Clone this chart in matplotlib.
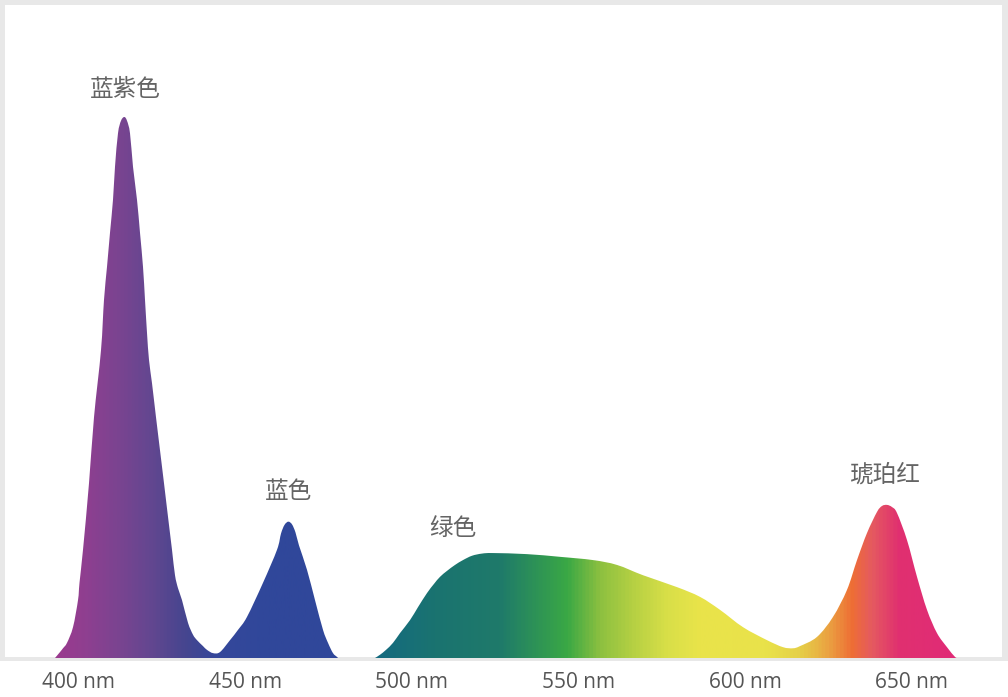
import numpy as np
import matplotlib.pyplot as plt
from matplotlib.colors import LinearSegmentedColormap, Normalize
from matplotlib.patches import Rectangle
from matplotlib.path import Path

# spectrum: wavelength (nm) and relative intensity (violet peak = 100)
wl_violet_blue = [392.95, 394.45, 395.35, 396.55, 398.35, 399.85, 400.3, 401.35, 403.15,
                  404.65, 406.75, 407.65, 408.55, 409.45, 410.35, 410.95, 411.85, 412.75,
                  413.74, 414.55, 415.45, 416.35, 417.55, 418.45, 419.35, 419.95, 420.55,
                  421.15, 422.05, 423.25, 424.45, 425.65, 426.85, 428.05, 428.95, 429.85,
                  431.05, 432.85, 434.35, 435.55, 437.35, 438.55, 440.35, 442.45, 445.45,
                  447.85, 450.55, 455.35, 459.55, 460.75, 461.8, 462.94, 464.05, 465.1,
                  466.15, 468.55, 470.95, 473.35, 474.85, 476.35, 477.55, 477.85]
int_violet_blue = [0.0, 1.1, 1.8, 2.8, 5.7, 10.7, 13.9, 20.0, 32.3,
                   44.5, 56.9, 66.2, 72.3, 78.6, 84.7, 90.8, 97.0, 99.3,
                   100.0, 99.3, 97.0, 90.8, 84.7, 78.6, 72.3, 66.2, 60.1,
                   55.1, 50.8, 44.5, 38.4, 32.3, 26.1, 20.0, 15.3, 12.9,
                   10.7, 6.5, 4.3, 3.3, 2.2, 1.5, 0.9, 1.1, 3.3,
                   5.2, 7.6, 13.9, 20.0, 23.0, 24.6, 25.2, 24.7, 23.2,
                   20.8, 16.3, 10.7, 5.2, 2.8, 0.9, 0.2, 0.0]

wl_green_red = [488.95, 490.45, 492.25, 494.35, 496.45, 499.45, 501.85, 504.55, 506.65,
                508.45, 510.55, 512.95, 515.35, 518.05, 521.05, 524.35, 534.55, 544.45,
                554.35, 561.55, 569.35, 579.55, 586.45, 592.45, 599.35, 606.55, 611.35,
                614.35, 616.45, 621.55, 626.35, 630.55, 633.55, 636.55, 639.55, 641.05,
                642.55, 644.05, 645.55, 648.55, 651.55, 654.55, 657.55, 660.55, 662.95,
                663.85]
int_green_red = [0.0, 0.6, 1.5, 2.8, 4.6, 7.0, 9.4, 12.0, 13.7,
                 15.0, 16.1, 17.2, 18.1, 18.9, 19.3, 19.4, 19.2, 18.7,
                 18.1, 17.2, 15.3, 13.1, 11.3, 8.9, 5.7, 3.3, 2.0,
                 1.8, 2.2, 3.9, 7.6, 12.6, 18.1, 23.1, 27.0, 28.1,
                 28.3, 27.9, 26.8, 21.8, 15.0, 8.9, 4.6, 2.0, 0.2,
                 0.0]

# colour of the fill along the wavelength axis
grad_nm = [392.0, 401.4, 411.6, 421.5, 431.4, 440.4, 456.6, 477.0, 489.0, 506.4, 526.4,
           546.6, 556.5, 566.4, 576.6, 586.5, 606.6, 616.5, 621.6, 626.4, 632.4, 638.4,
           646.5, 667.0]
grad_colors = ['#9b3a8e', '#8f3f90', '#7a4490', '#624790', '#46458f', '#35479a', '#30479a',
               '#30479a', '#146a80', '#1a7370', '#1f7a6a', '#3aa845', '#8cc040', '#b5d043',
               '#d8df48', '#e9e44a', '#e9e24a', '#e5d048', '#e8b845', '#eb9a40', '#ee6e35',
               '#e55a60', '#e03070', '#e02a78']

tick_nm = [400, 450, 500, 550, 600, 650]
tick_labels = ['400 nm', '450 nm', '500 nm', '550 nm', '600 nm', '650 nm']

peak_names = ['蓝紫色', '蓝色', '绿色', '琥珀红']
peak_label_nm = [413.9, 462.9, 512.4, 642.0]
peak_label_int = [105.1, 30.7, 24.0, 33.8]


def smooth_area(xs, ys):
    # closed area under a curve drawn as bezier pieces through the read points
    p = np.column_stack([xs, ys])
    verts = [tuple(p[0])]
    codes = [Path.MOVETO]
    n = len(p)
    for i in range(n - 1):
        a = p[max(i - 1, 0)]
        b = p[i]
        c = p[i + 1]
        d = p[min(i + 2, n - 1)]
        verts += [tuple(b + (c - a) / 6), tuple(c - (d - b) / 6), tuple(c)]
        codes += [Path.CURVE4] * 3
    verts += [(xs[-1], 0), (xs[0], 0), (xs[0], 0)]
    codes += [Path.LINETO, Path.LINETO, Path.CLOSEPOLY]
    return Path(verts, codes)


W, H = 1008, 697
fig = plt.figure(figsize=(W / 100, H / 100), dpi=100)
fig.patch.set_facecolor('white')

# light grey frame around the plot area
frame = '#e8e8e8'
for x0, y0, w, h in [(0, 36, 5, 661), (1002, 36, 6, 661), (0, 692, 1008, 5), (0, 36, 1008, 4)]:
    fig.add_artist(Rectangle((x0 / W, y0 / H), w / W, h / H, transform=fig.transFigure,
                             facecolor=frame, edgecolor='none', zorder=0))

ax = fig.add_axes([5 / W, 39 / H, 997 / W, 653 / H])
ax.set_facecolor('none')
px_per_nm = 10 / 3
ax.set_xlim(400 - 73.5 / px_per_nm, 400 + 923.5 / px_per_nm)
ax.set_ylim(0, 653 / 5.41)

cmap = LinearSegmentedColormap.from_list(
    'spec', [((n - grad_nm[0]) / (grad_nm[-1] - grad_nm[0]), c) for n, c in zip(grad_nm, grad_colors)])
gradient = np.linspace(grad_nm[0], grad_nm[-1], 1200)[None, :]

for wl, it in [(wl_violet_blue, int_violet_blue), (wl_green_red, int_green_red)]:
    im = ax.imshow(gradient, extent=[grad_nm[0], grad_nm[-1], 0, 105], aspect='auto',
                   cmap=cmap, norm=Normalize(grad_nm[0], grad_nm[-1]), interpolation='bilinear')
    im.set_clip_path(smooth_area(wl, it), transform=ax.transData)

for name, x, y in zip(peak_names, peak_label_nm, peak_label_int):
    ax.text(x, y, name, ha='center', va='center', fontsize=17, color='#646464',
            family=['Noto Sans CJK SC', 'DejaVu Sans'])

ax.set_xticks(tick_nm)
ax.set_xticklabels(tick_labels, fontsize=15, color='#555555', family=['Open Sans', 'DejaVu Sans'])
ax.tick_params(axis='x', length=0, pad=10)
ax.set_yticks([])
for s in ax.spines.values():
    s.set_visible(False)

fig.savefig('out.png', dpi=100)
